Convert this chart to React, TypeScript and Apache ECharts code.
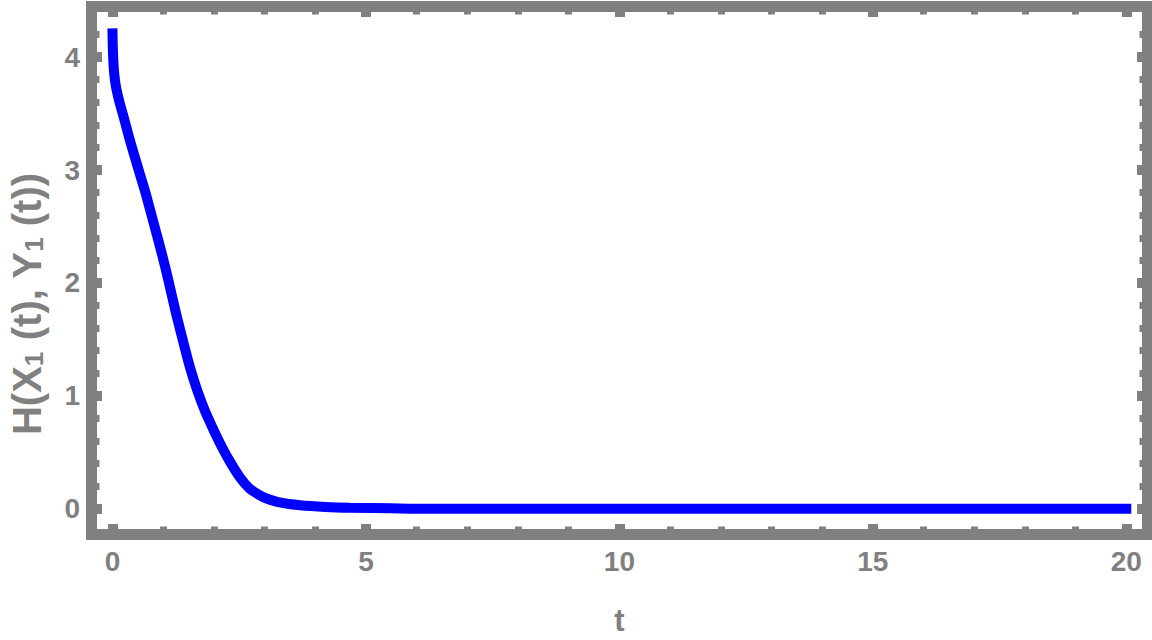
import React, { useEffect, useRef } from "react";
import * as echarts from "echarts";

const tValues = [0, 0.005, 0.015, 0.03, 0.06, 0.1, 0.15, 0.22, 0.345, 0.45, 0.556, 0.65, 0.74, 0.83, 0.92, 1.04, 1.15, 1.27, 1.4, 1.53, 1.67, 1.82, 1.97, 2.12, 2.3, 2.51, 2.7, 2.9, 3.04, 3.3, 3.7, 4.2, 4.68, 5.5, 6, 8, 10, 12, 14, 16, 18, 20];
const hValues = [4.21, 4.1, 3.98, 3.87, 3.76, 3.67, 3.58, 3.47, 3.26, 3.1, 2.94, 2.8, 2.65, 2.5, 2.35, 2.14, 1.93, 1.7, 1.47, 1.25, 1.05, 0.87, 0.72, 0.58, 0.43, 0.28, 0.18, 0.12, 0.09, 0.055, 0.03, 0.015, 0.008, 0.003, 0, 0, 0, 0, 0, 0, 0, 0];

const xMajorTicks = [0, 5, 10, 15, 20];
const xMinorTicks = [1, 2, 3, 4, 6, 7, 8, 9, 11, 12, 13, 14, 16, 17, 18, 19];
const yMajorTicks = [0, 1, 2, 3, 4];
const yMinorTicks = [0.2, 0.4, 0.6, 0.8, 1.2, 1.4, 1.6, 1.8, 2.2, 2.4, 2.6, 2.8, 3.2, 3.4, 3.6, 3.8, 4.2];

const X_MIN = -0.306;
const X_MAX = 20.31;
const Y_MIN = -0.18;
const Y_MAX = 4.4;

const GRAY = "#808080";
const FONT = "'Liberation Sans', Arial, sans-serif";

function tickAxis(kind: "x" | "y", position: string, values: number[], major: boolean, labels: boolean, extra: any = {}) {
  return {
    type: "value",
    position,
    min: kind === "x" ? X_MIN : Y_MIN,
    max: kind === "x" ? X_MAX : Y_MAX,
    axisLine: { show: false, onZero: false },
    splitLine: { show: false },
    axisTick: {
      show: true,
      inside: true,
      length: major ? 5 : 2.5,
      customValues: values,
      lineStyle: { color: GRAY, width: major ? 10 : 7 },
    },
    axisLabel: labels
      ? {
          show: true,
          customValues: values,
          color: GRAY,
          fontFamily: FONT,
          fontWeight: "bold",
          fontSize: 28,
          margin: kind === "x" ? 18 : 17,
        }
      : { show: false },
    ...extra,
  };
}

export default function App() {
  const ref = useRef<HTMLDivElement>(null);
  useEffect(() => {
    if (!ref.current) return;
    const chart = echarts.init(ref.current, undefined, { renderer: "svg" });
    const data = tValues.map((t, i) => [t, hValues[i]]);
    chart.setOption({
      animation: false,
      backgroundColor: "#ffffff",
      grid: { left: 97, top: 12, width: 1045, height: 517, containLabel: false, outerBoundsMode: "none" },
      xAxis: [
        tickAxis("x", "bottom", xMajorTicks, true, true, {
          name: "t",
          nameLocation: "middle",
          nameGap: 76,
          nameTextStyle: { color: GRAY, fontFamily: FONT, fontWeight: "bold", fontSize: 31 },
        }),
        tickAxis("x", "bottom", xMinorTicks, false, false),
        tickAxis("x", "top", xMajorTicks, true, false),
        tickAxis("x", "top", xMinorTicks, false, false),
      ],
      yAxis: [
        tickAxis("y", "left", yMajorTicks, true, true, {
          name: "H(X{sub|1} (t), Y{sub|1} (t))",
          nameLocation: "middle",
          nameRotate: 90,
          nameGap: 50,
          nameTextStyle: {
            color: GRAY,
            fontFamily: FONT,
            fontWeight: "bold",
            fontSize: 40,
            padding: [0, 67, 0, 0],
            rich: {
              sub: { fontSize: 26, color: GRAY, fontFamily: FONT, fontWeight: "bold", padding: [15, 0, 0, 0] },
            },
          },
        }),
        tickAxis("y", "left", yMinorTicks, false, false),
        tickAxis("y", "right", yMajorTicks, true, false),
        tickAxis("y", "right", yMinorTicks, false, false),
      ],
      series: [
        {
          type: "line",
          data,
          xAxisIndex: 0,
          yAxisIndex: 0,
          showSymbol: false,
          smooth: 0.3,
          lineStyle: { color: "#0000ff", width: 10, cap: "square" },
          z: 3,
        },
      ],
      graphic: [
        {
          type: "rect",
          shape: { x: 91.5, y: 6.5, width: 1056, height: 528 },
          style: { fill: "none", stroke: GRAY, lineWidth: 11 },
          z: 10,
          silent: true,
        },
      ],
    });
    return () => chart.dispose();
  }, []);
  return <div ref={ref} style={{ position: "absolute", left: 0, top: 0, width: 1152, height: 640 }} />;
}
